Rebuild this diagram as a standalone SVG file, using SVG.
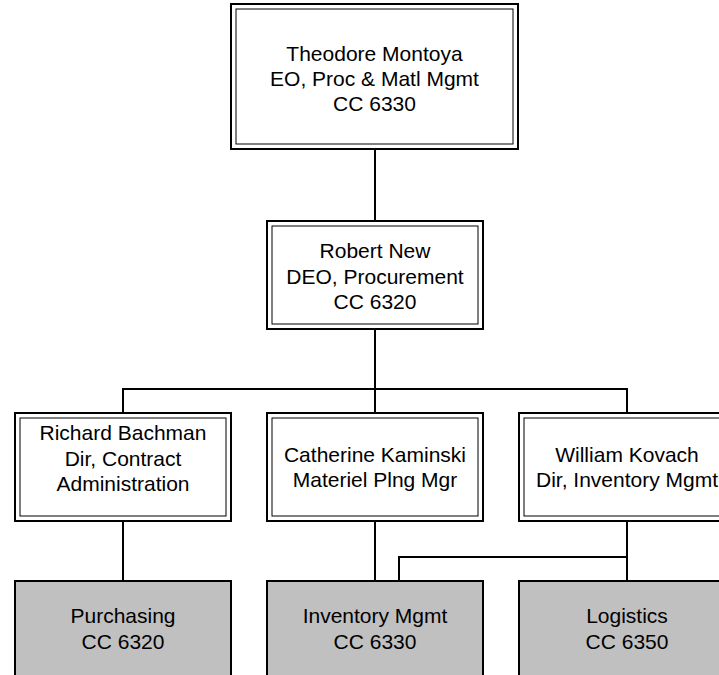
<svg xmlns="http://www.w3.org/2000/svg" width="719" height="675" viewBox="0 0 719 675">
<style>
  .outer { fill: #ffffff; stroke: #000000; stroke-width: 2; }
  .inner { fill: none; stroke: #000000; stroke-width: 1; }
  .unit { fill: #c0c0c0; stroke: #000000; stroke-width: 2; }
  .conn { fill: none; stroke: #000000; stroke-width: 2; }
  text { font-family: "Liberation Sans", Arial, Helvetica, sans-serif; font-size: 21px; fill: #000000; text-anchor: middle; }
</style>
<rect x="0" y="0" width="719" height="675" fill="#ffffff"/>
<g id="connectors">
  <path class="conn" d="M375,149 V221"/>
  <path class="conn" d="M375,329 V413"/>
  <path class="conn" d="M123,413 V389 H627 V413"/>
  <path class="conn" d="M123,521 V581"/>
  <path class="conn" d="M375,521 V581"/>
  <path class="conn" d="M627,521 V581"/>
  <path class="conn" d="M627,557 H399 V581"/>
</g>
<g id="node-montoya">
  <rect class="outer" x="231" y="4" width="287" height="145"/>
  <rect class="inner" x="236" y="9" width="277" height="135"/>
  <text x="374.5" y="60.5">Theodore Montoya</text>
  <text x="374.5" y="86">EO, Proc &amp; Matl Mgmt</text>
  <text x="374.5" y="111">CC 6330</text>
</g>
<g id="node-new">
  <rect class="outer" x="267" y="221" width="216" height="108"/>
  <rect class="inner" x="272" y="226" width="206" height="98"/>
  <text x="375" y="258">Robert New</text>
  <text x="375" y="283.5">DEO, Procurement</text>
  <text x="375" y="309">CC 6320</text>
</g>
<g id="node-bachman">
  <rect class="outer" x="15" y="413" width="216" height="108"/>
  <rect class="inner" x="20" y="418" width="206" height="98"/>
  <text x="123" y="440">Richard Bachman</text>
  <text x="123" y="465.5">Dir, Contract</text>
  <text x="123" y="491">Administration</text>
</g>
<g id="node-kaminski">
  <rect class="outer" x="267" y="413" width="216" height="108"/>
  <rect class="inner" x="272" y="418" width="206" height="98"/>
  <text x="375" y="461.5">Catherine Kaminski</text>
  <text x="375" y="486.5">Materiel Plng Mgr</text>
</g>
<g id="node-kovach">
  <rect class="outer" x="519" y="413" width="216" height="108"/>
  <rect class="inner" x="524" y="418" width="206" height="98"/>
  <text x="627" y="461.5">William Kovach</text>
  <text x="627" y="486.5">Dir, Inventory Mgmt</text>
</g>
<g id="node-purchasing">
  <rect class="unit" x="15" y="581" width="216" height="120"/>
  <text x="123" y="623">Purchasing</text>
  <text x="123" y="648.5">CC 6320</text>
</g>
<g id="node-inventory">
  <rect class="unit" x="267" y="581" width="216" height="120"/>
  <text x="375" y="623">Inventory Mgmt</text>
  <text x="375" y="648.5">CC 6330</text>
</g>
<g id="node-logistics">
  <rect class="unit" x="519" y="581" width="216" height="120"/>
  <text x="627" y="623">Logistics</text>
  <text x="627" y="648.5">CC 6350</text>
</g>
</svg>
